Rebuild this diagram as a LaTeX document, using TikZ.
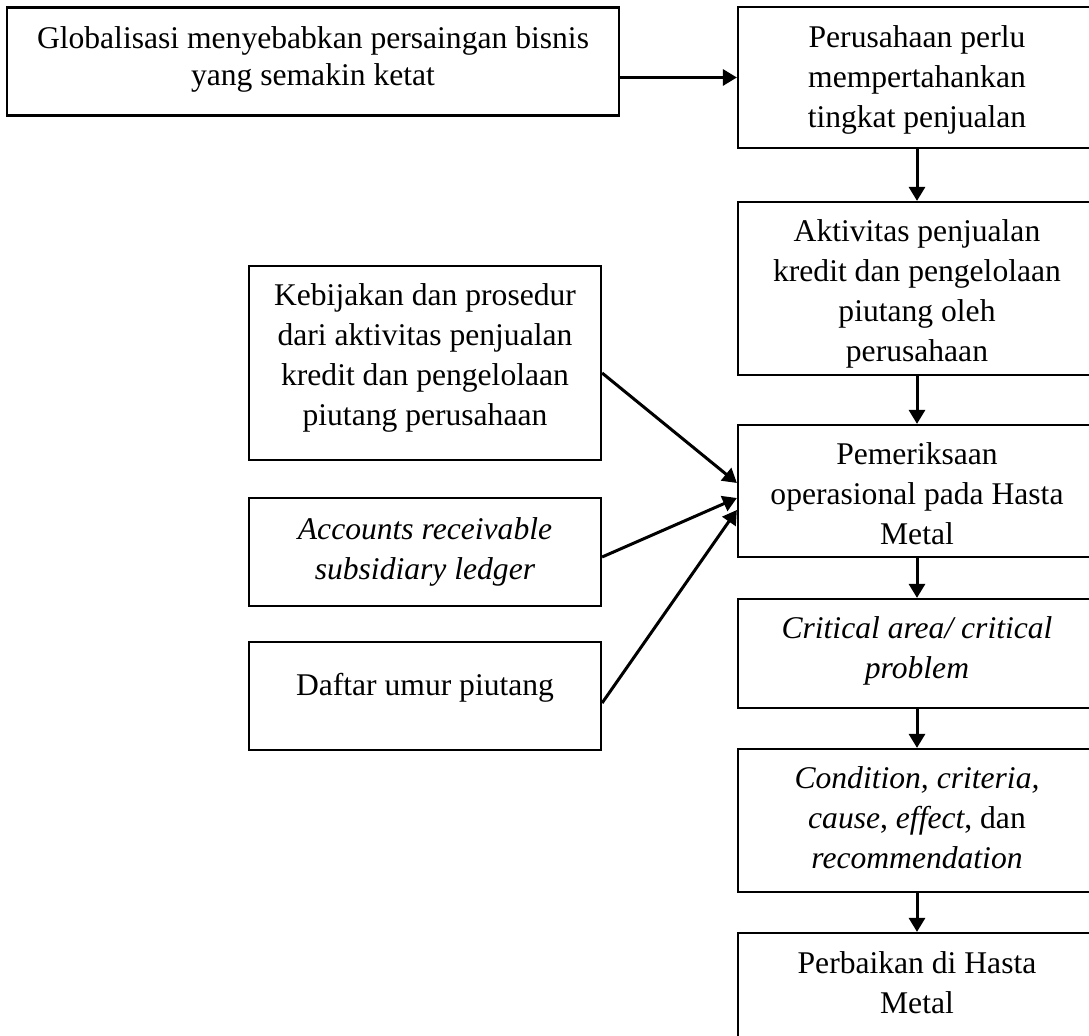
\documentclass[tikz,border=0pt]{standalone}
\usepackage{fontspec}
\setmainfont{Liberation Serif}
\usetikzlibrary{arrows.meta,positioning}
\newcommand\tpad[1]{\rule{0pt}{#1}}
\newcommand\bpad[1]{\rule[-#1]{0pt}{0pt}}

\begin{document}
\begin{tikzpicture}[x=0.5pt,y=-0.5pt]
\tikzset{box/.style={draw=black,line width=1.1pt,inner sep=0pt,align=center,font=\fontsize{15.8}{20}\selectfont},
  arr/.style={line width=1.5pt,-{Triangle[length=7pt,width=8pt]}}}
\useasboundingbox (0,0) rectangle (1089,1036);
\node[box,minimum width=306pt,minimum height=54pt,font=\fontsize{15.8}{18.5}\selectfont] (glob) at (313,61.5) {Globalisasi menyebabkan persaingan bisnis\\yang semakin ketat\bpad{5.5pt}};
\node[box,minimum width=179pt,minimum height=70.5pt] (pers) at (917,77.5) {\tpad{13.3pt}Perusahaan perlu\\mempertahankan\\tingkat penjualan};
\node[box,minimum width=179pt,minimum height=86.5pt] (akt) at (917,288.5) {\tpad{16.8pt}Aktivitas penjualan\\kredit dan pengelolaan\\piutang oleh\\perusahaan};
\node[box,minimum width=179pt,minimum height=66pt] (periksa) at (917,491) {\tpad{13.8pt}Pemeriksaan\\operasional pada Hasta\\Metal};
\node[box,minimum width=179pt,minimum height=54.5pt] (crit) at (917,653.5) {\textit{Critical area/ critical}\\\textit{problem}\bpad{6.4pt}};
\node[box,minimum width=179pt,minimum height=71.5pt] (cond) at (917,820.5) {\textit{Condition, criteria,}\\\textit{cause}, \textit{effect}, dan\\\textit{recommendation}\bpad{3pt}};
\node[box,minimum width=179pt,minimum height=53.5pt] (perb) at (917,986.5) {Perbaikan di Hasta\\Metal\bpad{3.5pt}};
\node[box,minimum width=176pt,minimum height=97pt] (keb) at (425,363) {Kebijakan dan prosedur\\dari aktivitas penjualan\\kredit dan pengelolaan\\piutang perusahaan\bpad{8.4pt}};
\node[box,minimum width=176pt,minimum height=54pt] (acc) at (425,552) {\textit{Accounts receivable}\\\textit{subsidiary ledger}};
\node[box,minimum width=176pt,minimum height=54pt,text depth=12pt] (daf) at (425,696) {Daftar umur piutang};
\draw[arr] (glob.east |- pers.west) -- (pers.west);
\draw[arr] (pers.south) -- (akt.north);
\draw[arr] (akt.south) -- (periksa.north);
\draw[arr] (periksa.south) -- (crit.north);
\draw[arr] (crit.south) -- (cond.north);
\draw[arr] (cond.south) -- (perb.north);
\draw[arr] ([yshift=-5pt]keb.east) -- ([yshift=4pt]periksa.west);
\draw[arr] ([yshift=-2.5pt]acc.east) -- ([yshift=-3.5pt]periksa.west);
\draw[arr] ([yshift=-3.5pt]daf.east) -- ([yshift=-9.5pt]periksa.west);
\end{tikzpicture}
\end{document}
